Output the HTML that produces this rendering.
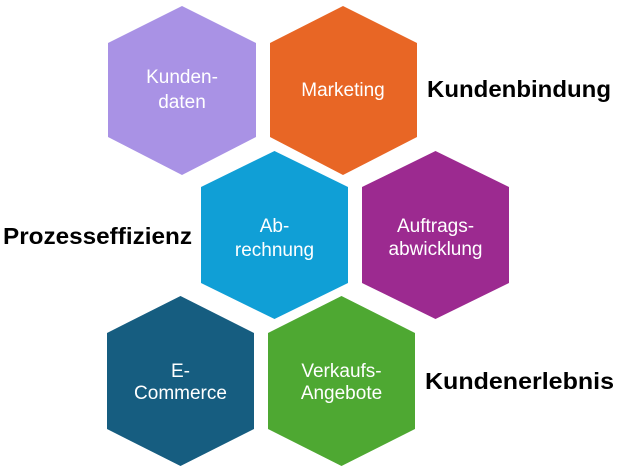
<!DOCTYPE html>
<html><head><style>html,body{margin:0;padding:0;background:#fff;width:620px;height:474px;overflow:hidden}</style></head>
<body>
<svg width="620" height="474" viewBox="0 0 620 474" xmlns="http://www.w3.org/2000/svg">
<polygon points="182,6 256,43 256,137 182,175 108,137 108,43" fill="#a992e5"/>
<polygon points="343,6 417,43 417,137 343,175 270,137 270,43" fill="#e86625"/>
<polygon points="274.5,151 348,187 348,283 274.5,319 201,283 201,187" fill="#109fd6"/>
<polygon points="435.5,151 509,187 509,283 435.5,319 362,283 362,187" fill="#9c2a90"/>
<polygon points="180.5,296 254,333 254,429 180.5,466 107,429 107,333" fill="#165d80"/>
<polygon points="341.5,296 415,333 415,429 341.5,466 268,429 268,333" fill="#4ea832"/>
<g font-family="Liberation Sans, sans-serif" font-size="19" fill="#fff" text-anchor="middle">
<text x="182" y="83">Kunden-</text><text x="182" y="108">daten</text>
<text x="343" y="96">Marketing</text>
<text x="274.5" y="232">Ab-</text><text x="274.5" y="256">rechnung</text>
<text x="435.5" y="232">Auftrags-</text><text x="435.5" y="255">abwicklung</text>
<text x="180.5" y="377">E-</text><text x="180.5" y="399">Commerce</text>
<text x="341.5" y="377">Verkaufs-</text><text x="341.5" y="399">Angebote</text>
</g>
<g font-family="Liberation Sans, sans-serif" font-size="23" font-weight="bold" fill="#000">
<text x="427" y="97" textLength="184" lengthAdjust="spacingAndGlyphs">Kundenbindung</text>
<text x="3" y="244" textLength="189" lengthAdjust="spacingAndGlyphs">Prozesseffizienz</text>
<text x="425" y="389" textLength="189" lengthAdjust="spacingAndGlyphs">Kundenerlebnis</text>
</g>
</svg>
</body></html>
